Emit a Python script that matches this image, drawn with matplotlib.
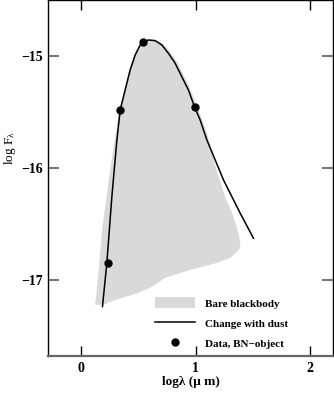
import matplotlib
matplotlib.use("Agg")
import matplotlib.pyplot as plt
from matplotlib.patches import Patch
from matplotlib.lines import Line2D

# bare blackbody region (outline of the shaded area)
bb_x = [0.122, 0.140, 0.157, 0.183, 0.218, 0.253, 0.279, 0.306, 0.332, 0.376,
        0.419, 0.463, 0.515, 0.576, 0.646, 0.716, 0.777, 0.838, 0.900, 0.961,
        1.013, 1.066, 1.109, 1.170, 1.258, 1.319, 1.371, 1.389, 1.389, 1.362,
        1.301, 1.188, 0.952, 0.734, 0.603, 0.472, 0.297, 0.192]
bb_y = [-17.223, -17.045, -16.866, -16.554, -16.286, -16.018, -15.839, -15.661, -15.482, -15.304,
        -15.125, -14.991, -14.893, -14.853, -14.857, -14.893, -14.964, -15.054, -15.179, -15.313,
        -15.455, -15.589, -15.723, -15.973, -16.259, -16.402, -16.571, -16.670, -16.714, -16.750,
        -16.804, -16.848, -16.911, -16.982, -17.071, -17.125, -17.179, -17.223]

# change with dust curve
dust_x = [0.186, 0.224, 0.268, 0.312, 0.341, 0.384, 0.428, 0.472, 0.515, 0.539,
          0.588, 0.646, 0.705, 0.762, 0.821, 0.879, 0.937, 0.990, 1.039, 1.098,
          1.243, 1.389, 1.505]
dust_y = [-17.238, -16.851, -16.256, -15.750, -15.482, -15.304, -15.125, -14.991, -14.902, -14.878,
          -14.857, -14.863, -14.902, -14.976, -15.065, -15.185, -15.304, -15.453, -15.571, -15.750,
          -16.107, -16.404, -16.628]

# BN-object data
bn_x = [0.238, 0.341, 0.539, 0.990]
bn_y = [-16.85, -15.482, -14.878, -15.453]

plt.rcParams['font.family'] = ['Liberation Serif', 'DejaVu Serif']
plt.rcParams['mathtext.fontset'] = 'custom'
plt.rcParams['mathtext.rm'] = 'Liberation Serif'
plt.rcParams['mathtext.it'] = 'Liberation Serif'
plt.rcParams['mathtext.bf'] = 'Liberation Serif:bold'

fig = plt.figure(figsize=(3.34, 3.93), dpi=100)
ax = fig.add_axes([48/334, 37/393, 285/334, 356/393])

ax.fill(bb_x, bb_y, color='#d9d9d9', lw=0, zorder=1)
ax.plot(dust_x, dust_y, color='black', lw=1.1, zorder=2, solid_joinstyle='round')
ax.plot(bn_x, bn_y, 'o', color='black', ms=5, zorder=3)

ax.set_xlim(-0.29, 2.2)
ax.set_ylim(-17.68, -14.5)
ax.set_xticks([0, 1, 2])
ax.set_yticks([-17, -16, -15])

ax.tick_params(axis='x', direction='in', top=True, length=7, width=1, color='black',
               labelsize=10, pad=4)
ax.tick_params(axis='y', direction='in', right=True, length=8, width=1.5, color='#777777',
               labelsize=10, pad=4)
for lab in ax.get_xticklabels() + ax.get_yticklabels():
    lab.set_fontweight('bold')

for s in ['top', 'right', 'left']:
    ax.spines[s].set_linewidth(1.0)
ax.spines['bottom'].set_linewidth(1.6)
ax.spines['bottom'].set_color('#666666')

ax.set_xlabel('log\u03bb (\u03bc m)', fontsize=9.5, fontweight='bold', labelpad=1)
fig.text(10/334, 1 - 148/393, r'log F$_\lambda$', rotation=90, fontsize=9.5,
         ha='center', va='center')

handles = [Patch(facecolor='#d9d9d9', edgecolor='none'),
           Line2D([], [], color='black', lw=1.1),
           Line2D([], [], marker='o', ls='none', color='black', ms=5)]
labels = ['Bare blackbody', 'Change with dust', 'Data, BN\u2212object']
leg = ax.legend(handles, labels, loc='lower left', bbox_to_anchor=(107/285, 7/356),
                frameon=False, fontsize=8, handlelength=3.6, handleheight=1.1,
                handletextpad=0.9, labelspacing=0.82, borderpad=0, borderaxespad=0)
for t in leg.get_texts():
    t.set_fontweight('bold')

fig.savefig('out.png', dpi=100)
